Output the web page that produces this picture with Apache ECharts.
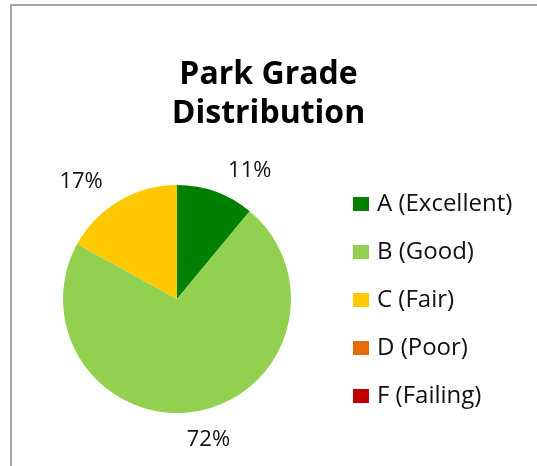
<!DOCTYPE html>
<html>
<head>
<meta charset="utf-8">
<script src="https://cdn.jsdelivr.net/npm/echarts@6/dist/echarts.min.js"></script>
<style>
html,body{margin:0;padding:0;background:#fff;}
#chart{width:537px;height:466px;}
</style>
</head>
<body>
<div id="chart"></div>
<script>
const titleText = 'Park Grade\nDistribution';
const categories = ['A (Excellent)', 'B (Good)', 'C (Fair)', 'D (Poor)', 'F (Failing)'];
const values = [11, 72, 17, 0, 0];
const colors = ['#008000', '#92D050', '#FFC800', '#E46C0A', '#C00000'];

const FONT = '"Open Sans", sans-serif';
const chart = echarts.init(document.getElementById('chart'), null, {renderer: 'canvas'});

const data = categories.map((name, i) => {
  const item = {name: name, value: values[i], itemStyle: {color: colors[i]}};
  if (i === 1) {
    item.labelLine = {length: 29, length2: 0, show: false};
    item.label = {distanceToLabelLine: -17};
  }
  return item;
});

chart.setOption({
  animation: false,
  backgroundColor: '#fff',
  graphic: [{
    type: 'rect',
    shape: {x: 11, y: 5, width: 700, height: 700},
    style: {fill: 'none', stroke: '#878787', lineWidth: 1.5},
    silent: true,
    z: -1
  }],
  title: {
    text: titleText,
    left: 'center',
    top: 55,
    padding: 0,
    textStyle: {fontFamily: FONT, fontSize: 32, fontWeight: 'bold', color: '#000', lineHeight: 39}
  },
  legend: {
    orient: 'vertical',
    left: 353,
    top: 192,
    padding: 0,
    itemWidth: 16,
    itemHeight: 14,
    itemGap: 24,
    icon: 'rect',
    data: categories,
    textStyle: {fontFamily: FONT, fontSize: 24, color: '#111', padding: [0, 0, 0, 3]},
    itemStyle: {borderWidth: 0}
  },
  series: [{
    type: 'pie',
    center: [177, 299],
    radius: 114,
    startAngle: 90,
    clockwise: true,
    avoidLabelOverlap: false,
    minShowLabelAngle: 0.1,
    label: {
      show: true,
      position: 'outside',
      fontFamily: FONT,
      fontSize: 22,
      color: '#111',
      distanceToLabelLine: 5,
      formatter: p => p.value ? p.percent + '%' : ''
    },
    labelLine: {show: false, length: 22, length2: 0},
    itemStyle: {borderWidth: 0},
    emphasis: {disabled: true},
    data: data
  }]
});
</script>
</body>
</html>
